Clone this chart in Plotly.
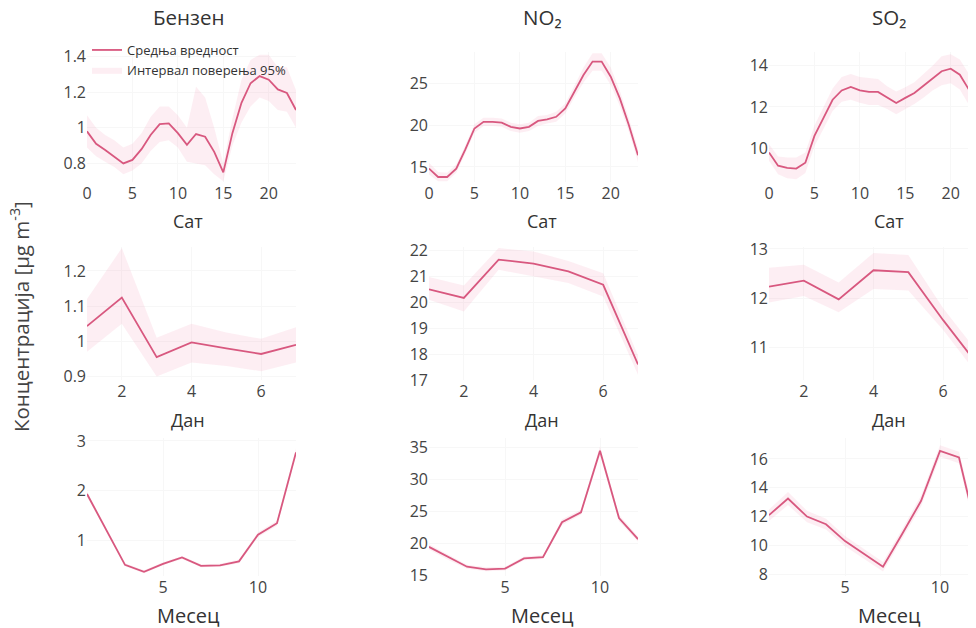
import plotly.graph_objects as go
from plotly.subplots import make_subplots

# ---------------- data ----------------
hours = list(range(24))
days = list(range(1, 8))
months = list(range(1, 13))

col_titles = ["Бензен", "NO₂", "SO₂"]
row_titles = ["Сат", "Дан", "Месец"]
y_title = "Концентрација [μg m<sup>-3</sup>]"
legend_mean = "Средња вредност"
legend_ci = "Интервал поверења 95%"

# Benzene, hourly
benz_h_mean = [0.98, 0.91, 0.875, 0.84, 0.80, 0.82, 0.88, 0.96, 1.02, 1.025, 0.97, 0.905,
               0.965, 0.95, 0.865, 0.75, 0.97, 1.14, 1.25, 1.29, 1.27, 1.215, 1.195, 1.10]
benz_h_upper = [1.07, 1.00, 0.96, 0.93, 0.89, 0.91, 0.97, 1.06, 1.12, 1.12, 1.07, 1.00,
                1.23, 1.17, 1.00, 0.80, 1.05, 1.27, 1.38, 1.41, 1.41, 1.34, 1.34, 1.21]
benz_h_lower = [0.89, 0.84, 0.81, 0.78, 0.74, 0.76, 0.80, 0.87, 0.92, 0.93, 0.89, 0.81,
                0.80, 0.79, 0.74, 0.70, 0.90, 1.03, 1.12, 1.17, 1.15, 1.10, 1.09, 1.00]
# NO2, hourly
no2_h_mean = [14.8, 13.8, 13.8, 14.8, 17.1, 19.6, 20.4, 20.4, 20.3, 19.8, 19.6, 19.8,
              20.5, 20.7, 21.0, 22.0, 24.0, 26.0, 27.6, 27.6, 25.8, 23.2, 20.0, 16.4]
no2_h_upper = [15.5, 14.4, 14.3, 15.3, 17.6, 20.1, 20.9, 20.9, 20.8, 20.3, 20.1, 20.3,
               21.1, 21.2, 21.6, 22.6, 24.7, 26.9, 28.6, 28.6, 26.9, 24.1, 20.8, 17.2]
no2_h_lower = [14.1, 13.3, 13.3, 14.3, 16.6, 19.1, 19.9, 19.9, 19.8, 19.3, 19.1, 19.3,
               19.9, 20.2, 20.4, 21.4, 23.3, 25.1, 26.5, 26.5, 24.8, 22.3, 19.2, 15.6]
# SO2, hourly
so2_h_mean = [9.8, 9.16, 9.05, 9.02, 9.3, 10.6, 11.47, 12.35, 12.8, 12.97, 12.8, 12.73,
              12.73, 12.44, 12.19, 12.44, 12.68, 13.03, 13.4, 13.73, 13.85, 13.56, 12.84, 11.4]
so2_h_upper = [10.2, 9.6, 9.55, 9.55, 9.8, 11.1, 12.0, 12.9, 13.45, 13.6, 13.45, 13.4,
               13.35, 13.0, 12.75, 12.95, 13.2, 13.6, 14.0, 14.45, 14.55, 14.3, 13.6, 12.2]
so2_h_lower = [9.4, 8.75, 8.55, 8.5, 8.8, 10.1, 10.95, 11.8, 12.25, 12.35, 12.2, 12.1,
               12.1, 11.9, 11.65, 11.9, 12.15, 12.45, 12.8, 13.05, 13.15, 12.85, 12.1, 10.7]

# Benzene, day of week
benz_d_mean = [1.043, 1.124, 0.955, 0.997, 0.98, 0.964, 0.99]
benz_d_upper = [1.12, 1.265, 1.01, 1.05, 1.025, 1.007, 1.04]
benz_d_lower = [0.97, 1.05, 0.90, 0.94, 0.93, 0.915, 0.94]
# NO2, day of week
no2_d_mean = [20.5, 20.17, 21.65, 21.5, 21.2, 20.68, 17.6]
no2_d_upper = [20.98, 20.65, 22.1, 21.97, 21.6, 21.13, 17.95]
no2_d_lower = [20.1, 19.65, 21.26, 21.0, 20.75, 20.23, 17.2]
# SO2, day of week
so2_d_mean = [12.24, 12.36, 11.98, 12.57, 12.53, 11.56, 10.65]
so2_d_upper = [12.62, 12.68, 12.32, 12.92, 12.88, 11.8, 10.9]
so2_d_lower = [11.92, 12.05, 11.72, 12.19, 12.16, 11.36, 10.45]

# Benzene, monthly
benz_m_mean = [1.93, 1.22, 0.50, 0.36, 0.52, 0.65, 0.48, 0.49, 0.57, 1.11, 1.34, 2.77]
benz_m_upper = [1.98, 1.26, 0.53, 0.39, 0.55, 0.68, 0.51, 0.52, 0.61, 1.16, 1.39, 2.85]
benz_m_lower = [1.88, 1.18, 0.47, 0.33, 0.49, 0.62, 0.45, 0.46, 0.53, 1.06, 1.29, 2.69]
# NO2, monthly
no2_m_mean = [19.5, 17.9, 16.4, 16.0, 16.1, 17.7, 17.9, 23.35, 24.9, 34.5, 24.0, 20.7]
no2_m_upper = [19.9, 18.3, 16.7, 16.3, 16.4, 18.0, 18.2, 23.8, 25.3, 35.2, 24.5, 21.1]
no2_m_lower = [19.1, 17.5, 16.1, 15.7, 15.8, 17.4, 17.6, 22.9, 24.5, 33.8, 23.5, 20.3]
# SO2, monthly
so2_m_mean = [12.1, 13.25, 12.0, 11.47, 10.3, 9.4, 8.53, 10.77, 13.08, 16.55, 16.1, 10.6]
so2_m_upper = [12.5, 13.7, 12.4, 11.85, 10.65, 9.75, 8.85, 11.1, 13.45, 16.95, 16.5, 11.1]
so2_m_lower = [11.7, 12.8, 11.6, 11.1, 9.95, 9.05, 8.2, 10.45, 12.7, 16.15, 15.7, 10.1]

# ---------------- layout helpers ----------------
W, H = 976, 628
OFF = 8  # page body margin
LINE = "#d8587f"
FILL = "rgba(236,125,160,0.13)"
FONT = "Open Sans"
TXT = "#444444"


def px_x(p):
    return (p - OFF) / W


def px_y(p):
    return 1 - (p - OFF) / H


panels = [
    # row, col, x, mean, upper, lower, y range, y dtick, x range, x dtick
    (1, 1, hours, benz_h_mean, benz_h_upper, benz_h_lower, [0.696, 1.425], 0.2, [0, 23], 5),
    (1, 2, hours, no2_h_mean, no2_h_upper, no2_h_lower, [13.2, 28.75], 5, [0, 23], 5),
    (1, 3, hours, so2_h_mean, so2_h_upper, so2_h_lower, [8.37, 14.66], 2, [0, 23], 5),
    (2, 1, days, benz_d_mean, benz_d_upper, benz_d_lower, [0.89, 1.268], 0.1, [1, 7], 2),
    (2, 2, days, no2_d_mean, no2_d_upper, no2_d_lower, [17.0, 22.14], 1, [1, 7], 2),
    (2, 3, days, so2_d_mean, so2_d_upper, so2_d_lower, [10.35, 13.04], 1, [1, 7], 2),
    (3, 1, months, benz_m_mean, benz_m_upper, benz_m_lower, [0.275, 3.06], 1, [1, 12], 5),
    (3, 2, months, no2_m_mean, no2_m_upper, no2_m_lower, [14.95, 36.5], 5, [1, 12], 5),
    (3, 3, months, so2_m_mean, so2_m_upper, so2_m_lower, [7.88, 17.45], 2, [1, 12], 5),
]

col_px = [(87, 296), (429, 638), (769, 978)]
row_px = [(52, 182), (247, 380), (438, 576)]
col_center = [188, 542, 889]
xtitle_y = [221, 420, 615]
xtitle_size = [18, 18, 20]

fig = make_subplots(rows=3, cols=3)

for (r, c, x, mean, up, lo, yr, ydt, xr, xdt) in panels:
    first = (r == 1 and c == 1)
    fig.add_trace(go.Scatter(x=x, y=lo, mode="lines", line=dict(width=0, color=FILL),
                             showlegend=False, hoverinfo="skip"), row=r, col=c)
    fig.add_trace(go.Scatter(x=x, y=up, mode="lines", line=dict(width=0, color=FILL),
                             fill="tonexty", fillcolor=FILL, name=legend_ci,
                             showlegend=first, legendrank=2), row=r, col=c)
    fig.add_trace(go.Scatter(x=x, y=mean, mode="lines", line=dict(width=1.8, color=LINE),
                             name=legend_mean, showlegend=first, legendrank=1), row=r, col=c)
    x0, x1 = col_px[c - 1]
    y0, y1 = row_px[r - 1]
    fig.update_xaxes(domain=[px_x(x0), px_x(x1)], range=xr, dtick=xdt, tick0=0, automargin=False,
                     showgrid=True, gridcolor="#f7f7f7", zeroline=False, showline=False,
                     ticks="", tickfont=dict(size=16, color=TXT), row=r, col=c)
    fig.update_yaxes(domain=[px_y(y1), px_y(y0)], range=yr, dtick=ydt, tick0=0, automargin=False,
                     showgrid=True, gridcolor="#f7f7f7", zeroline=False, showline=False,
                     ticks="", tickfont=dict(size=16, color=TXT), row=r, col=c)

annotations = []
for i, t in enumerate(col_titles):
    annotations.append(dict(text=t, x=px_x(col_center[i]), y=px_y(17.5), xref="paper", yref="paper",
                            showarrow=False, font=dict(size=20.5, color="#333333", family=FONT),
                            xanchor="center", yanchor="middle"))
for r, t in enumerate(row_titles):
    for c in range(3):
        annotations.append(dict(text=t, x=px_x(col_center[c]), y=px_y(xtitle_y[r]),
                                xref="paper", yref="paper", showarrow=False,
                                font=dict(size=xtitle_size[r], color="#333333", family=FONT),
                                xanchor="center", yanchor="middle"))
annotations.append(dict(text=y_title, x=px_x(20), y=px_y(317), xref="paper", yref="paper",
                        showarrow=False, textangle=-90,
                        font=dict(size=20.5, color="#444444", family=FONT),
                        xanchor="center", yanchor="middle"))

fig.update_layout(
    width=W, height=H,
    margin=dict(l=0, r=0, t=0, b=0, autoexpand=False),
    paper_bgcolor="white", plot_bgcolor="white",
    font=dict(family=FONT, color=TXT),
    annotations=annotations,
    showlegend=True,
    legend=dict(x=px_x(87), y=px_y(35), xanchor="left", yanchor="top",
                traceorder="normal",
                bgcolor="rgba(0,0,0,0)", font=dict(size=13, color="#333333"),
                tracegroupgap=0, itemwidth=30),
)

fig.write_html("out.html")
